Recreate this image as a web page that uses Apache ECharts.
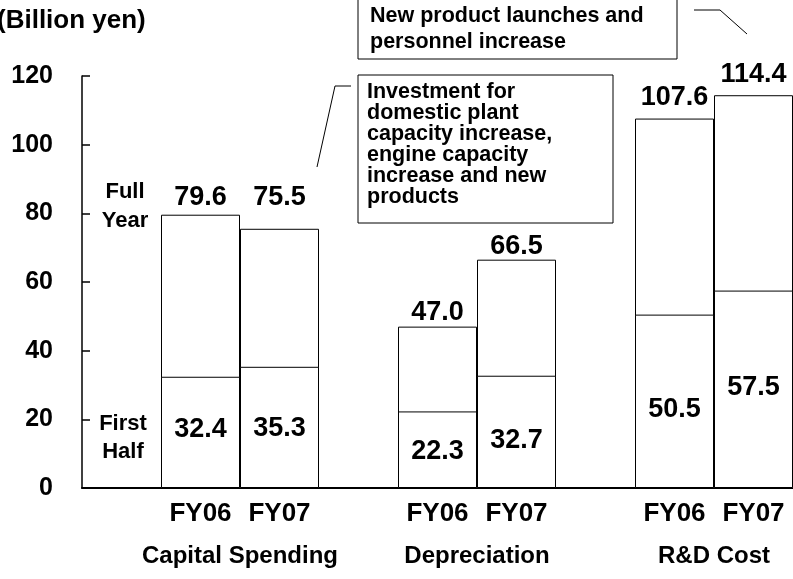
<!DOCTYPE html>
<html>
<head>
<meta charset="utf-8">
<script src="https://cdn.jsdelivr.net/npm/echarts@6/dist/echarts.min.js"></script>
<style>
  html, body { margin: 0; padding: 0; background: #fff; }
  #chart { width: 793px; height: 579px; }
</style>
</head>
<body>
<div id="chart"></div>
<script>
// 数据
const categories = ['', 'FY06', 'FY07', '', 'FY06', 'FY07', '', 'FY06', 'FY07'];
const fullYear = [null, 79.6, 75.5, null, 47.0, 66.5, null, 107.6, 114.4];
const firstHalf = [null, 32.4, 35.3, null, 22.3, 32.7, null, 50.5, 57.5];
const groupNames = ['Capital Spending', 'Depreciation', 'R&D Cost'];
const groupSlots = [[1, 2], [4, 5], [7, 8]];
const yMin = 0, yMax = 120, yStep = 20;

// 标签微调（原图标签位置不统一）
const fullLabelGap = [0, 4, 18, 0, 1, 0, 0, 8, 7];
const halfLabelShift = [0, -3, 1, 0, 2, 9, 0, 8, -2];

const FONT = '"Liberation Sans", Arial, sans-serif';
const chart = echarts.init(document.getElementById('chart'));

const labelBase = {
  show: true,
  color: '#000',
  fontFamily: FONT,
  fontWeight: 'bold',
  fontSize: 27,
  formatter: p => p.value == null ? '' : p.value.toFixed(1),
};

const barStyle = {
  color: '#fff',
  borderColor: '#000',
  borderWidth: 1,
};

chart.setOption({
  animation: false,
  backgroundColor: '#fff',
  grid: { left: 82, right: 0, top: 76, bottom: 91 },
  xAxis: {
    type: 'category',
    data: categories,
    axisLine: { lineStyle: { color: '#000', width: 2 } },
    axisTick: { show: false },
    axisLabel: {
      color: '#000',
      fontFamily: FONT,
      fontWeight: 'bold',
      fontSize: 26,
      margin: 13,
      interval: 0,
    },
  },
  yAxis: {
    type: 'value',
    min: yMin,
    max: yMax,
    interval: yStep,
    axisLine: { show: true, lineStyle: { color: '#000', width: 1.5 } },
    axisTick: { show: true, inside: true, length: 8, lineStyle: { color: '#000', width: 1.5 } },
    splitLine: { show: false },
    axisLabel: {
      color: '#000',
      fontFamily: FONT,
      fontWeight: 'bold',
      fontSize: 25,
      margin: 29,
    },
  },
  series: [
    {
      name: 'Full Year',
      type: 'bar',
      data: fullYear.map((v, i) => ({
        value: v,
        label: { distance: fullLabelGap[i] },
      })),
      barWidth: '100%',
      barGap: '-100%',
      itemStyle: barStyle,
      label: Object.assign({ position: 'top' }, labelBase),
    },
    {
      name: 'First Half',
      type: 'bar',
      data: firstHalf.map((v, i) => ({
        value: v,
        label: { offset: [0, halfLabelShift[i]] },
      })),
      barWidth: '100%',
      itemStyle: barStyle,
      label: Object.assign({ position: 'inside' }, labelBase),
    },
  ],
});

// 组标题、说明框
const txt = (x, y, text, size, align) => ({
  type: 'text',
  x, y,
  style: {
    text, fill: '#000', font: `bold ${size}px ${FONT}`,
    textAlign: align || 'center', textVerticalAlign: 'middle',
  },
});

const graphics = [];
groupSlots.forEach((s, i) => {
  const x0 = chart.convertToPixel({ xAxisIndex: 0 }, s[0]);
  const x1 = chart.convertToPixel({ xAxisIndex: 0 }, s[1]);
  graphics.push(txt((x0 + x1) / 2, 556, groupNames[i], 24));
});

graphics.push(
  txt(125, 192, 'Full', 22), txt(125, 221, 'Year', 22),
  txt(123, 424, 'First', 22), txt(123, 452, 'Half', 22),
  {
    type: 'rect', shape: { x: 358, y: 75, width: 255, height: 148 },
    style: { fill: '#fff', stroke: '#000', lineWidth: 1 },
  },
  {
    type: 'text', x: 367, y: 82,
    style: {
      text: 'Investment for\ndomestic plant\ncapacity increase,\nengine capacity\nincrease and new\nproducts',
      fill: '#000', font: `bold 21.5px ${FONT}`, lineHeight: 21,
      textAlign: 'left', textVerticalAlign: 'top',
    },
  },
  {
    type: 'polyline', shape: { points: [[351, 86], [335, 86], [317, 167]] },
    style: { stroke: '#000', lineWidth: 1, fill: null },
  },
  {
    type: 'rect', shape: { x: 358, y: -2, width: 319, height: 61 },
    style: { fill: '#fff', stroke: '#000', lineWidth: 1 },
  },
  {
    type: 'text', x: 370, y: 3,
    style: {
      text: 'New product launches and\npersonnel increase',
      fill: '#000', font: `bold 21.5px ${FONT}`, lineHeight: 26,
      textAlign: 'left', textVerticalAlign: 'top',
    },
  },
  {
    type: 'polyline', shape: { points: [[694, 10], [720, 10], [747, 34]] },
    style: { stroke: '#000', lineWidth: 1, fill: null },
  },
  txt(-3, 21, '(Billion yen)', 26, 'left')
);

chart.setOption({ graphic: graphics });
</script>
</body>
</html>
